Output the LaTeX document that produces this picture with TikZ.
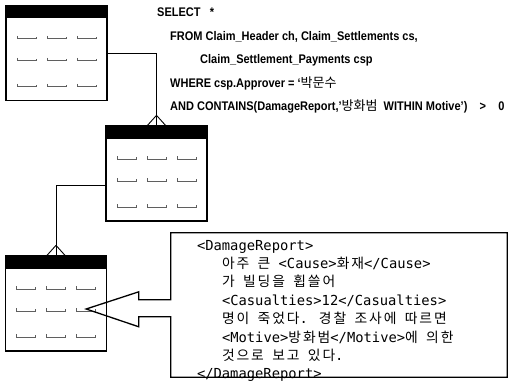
\documentclass[tikz,border=0pt]{standalone}
\usepackage{fontspec}
\usepackage{tikz}
\usetikzlibrary{positioning, calc}
\newfontfamily\sqlfont[FakeStretch=0.88]{Liberation Sans}
\newfontfamily\krfont{Noto Sans CJK KR}
\newfontfamily\krspaced[LetterSpace=14]{Noto Sans CJK KR}
\newfontfamily\monofont{DejaVu Sans Mono}
\newcommand{\hangul}[1]{{\krspaced #1}}
\definecolor{scribble}{RGB}{95,95,95}
\tikzset{
  tablebox/.style={rectangle, draw=black, line width=1.3pt, fill=white,
    minimum width=101pt, minimum height=95pt, inner sep=0pt,
    path picture={\fill[black] (path picture bounding box.north west)
      rectangle ([yshift=-13pt]path picture bounding box.north east);}},
  link/.style={line width=0.9pt, color=black},
  scrib/.style={line width=0.8pt, color=scribble},
  sqltext/.style={anchor=base west, inner sep=0pt,
    font=\sqlfont\bfseries\fontsize{12.5}{14}\selectfont},
  reporttext/.style={anchor=north west, inner sep=0pt, align=left,
    font=\monofont\fontsize{13.8}{18.4}\selectfont},
  callout/.style={line width=1.3pt, color=black, line join=miter}
}

\begin{document}
\begin{tikzpicture}[x=1pt, y=1pt]
  \useasboundingbox (0,0) rectangle (510,387);

  % --- Tables ---
  \node[tablebox] (claimhdr) at (56.5,334) {};
  \node[tablebox] (settle) at (156.5,213.5) {};
  \node[tablebox] (payment) at (56,83.5) {};

  % blurred column entries
  \foreach \tbl in {claimhdr, settle, payment}
    \foreach \row in {34,56,82}
      \foreach \col in {12,42,72}
        \draw[scrib] ($(\tbl.north west)+(\col,-\row+3)$) -- ++(0,-3) -- ++(19,0) -- ++(0,2);

  % --- Links with crow's feet ---
  \draw[link] (claimhdr.east) -| (settle.north);
  \draw[link] ([yshift=10pt]settle.north) -- ([xshift=-9pt]settle.north);
  \draw[link] ([yshift=10pt]settle.north) -- ([xshift=9pt]settle.north);

  \draw[link] ([yshift=-11.5pt]settle.west) -| (payment.north);
  \draw[link] ([yshift=10pt]payment.north) -- ([xshift=-9pt]payment.north);
  \draw[link] ([yshift=10pt]payment.north) -- ([xshift=9pt]payment.north);

  % --- SQL query ---
  \node[sqltext] (sqlselect) at (157,370) {SELECT\ \ \ *};
  \node[sqltext] (sqlfrom) at (170,346) {FROM Claim\_Header ch, Claim\_Settlements cs,};
  \node[sqltext] (sqltables) at (200,323) {Claim\_Settlement\_Payments csp};
  \node[sqltext] (sqlwhere) at (170,299)
    {WHERE csp.Approver = ‘{\krfont\mdseries\fontsize{13}{14}\selectfont 박문수}};
  \node[sqltext] (sqland) at (170,276)
    {AND CONTAINS(DamageReport,’{\krfont\mdseries\fontsize{13}{14}\selectfont 방화범}\ \ WITHIN Motive’)\ \ \ \ >\ \ \ \ 0};

  % --- Callout with the XML document ---
  \node[minimum width=336pt, minimum height=144pt, inner sep=0pt] (reportbox) at (339,82) {};
  \coordinate (target) at ($(payment.east)+(-21,-5.5)$);
  \draw[callout] ($(reportbox.north west)+(0,-67)$) -- (reportbox.north west)
    -- (reportbox.north east) -- (reportbox.south east) -- (reportbox.south west)
    -- ($(reportbox.north west)+(0,-84)$) -- ++(-32,0) -- ++(0,-10) -- (target)
    -- ($(reportbox.north west)+(-32,-59)$) -- ++(0,-8) -- cycle;

  \node[reporttext] (reporttxt) at ($(reportbox.north west)+(26,-7)$) {%
    <DamageReport>\\
    \hspace*{25pt}\hangul{아주} \hangul{큰} <Cause>\hangul{화재}</Cause>\\
    \hspace*{25pt}\hangul{가} \hangul{빌딩을} \hangul{휩쓸어}\\
    \hspace*{25pt}<Casualties>12</Casualties>\\
    \hspace*{25pt}\hangul{명이} \hangul{죽었다}. \hangul{경찰} \hangul{조사에} \hangul{따르면}\\
    \hspace*{25pt}<Motive>\hangul{방화범}</Motive>\hangul{에} \hangul{의한}\\
    \hspace*{25pt}\hangul{것으로} \hangul{보고} \hangul{있다}.\\
    </DamageReport>};
\end{tikzpicture}
\end{document}
